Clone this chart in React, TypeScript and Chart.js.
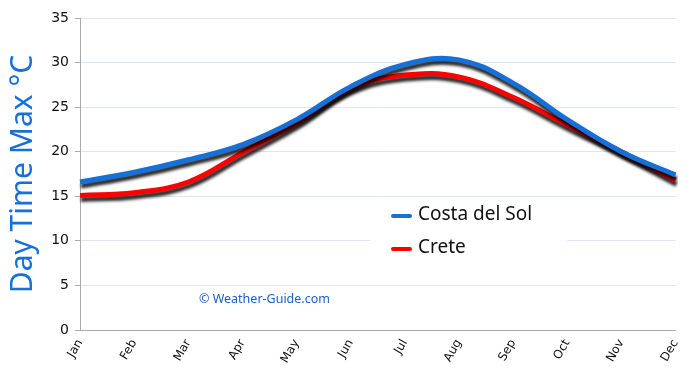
import React, { useEffect, useRef } from "react";
import { Chart, registerables } from "chart.js";

Chart.register(...registerables);

const months = ["Jan", "Feb", "Mar", "Apr", "May", "Jun", "Jul", "Aug", "Sep", "Oct", "Nov", "Dec"];
const costaDelSol = [16.6, 17.7, 19.1, 20.8, 23.6, 27.3, 29.8, 30.3, 27.7, 23.6, 20.0, 17.4];
const crete = [15.1, 15.4, 16.6, 19.9, 23.2, 27.1, 28.6, 28.4, 26.1, 23.0, 20.0, 16.8];
const seriesNames = ["Costa del Sol", "Crete"];
const seriesColors = ["#1670d8", "#ff0000"];
const yTitle = "Day Time Max °C";
const watermark = "© Weather-Guide.com";

const shadowPlugin = {
  id: "lineShadow",
  beforeDatasetsDraw(chart: any) {
    const ctx = chart.ctx;
    ctx.save();
    ctx.shadowColor = "rgba(0,0,0,0.85)";
    ctx.shadowOffsetX = 1;
    ctx.shadowOffsetY = 4;
    ctx.shadowBlur = 3;
  },
  afterDatasetsDraw(chart: any) {
    chart.ctx.restore();
  },
};

const overlayPlugin = {
  id: "overlay",
  afterDraw(chart: any) {
    const ctx = chart.ctx;
    ctx.save();
    ctx.fillStyle = "#ffffff";
    ctx.fillRect(370, 199, 197, 63);
    const items = [
      { y: 215, name: seriesNames[0], color: seriesColors[0] },
      { y: 248, name: seriesNames[1], color: seriesColors[1] },
    ];
    ctx.font = "19px 'Noto Sans', sans-serif";
    ctx.textBaseline = "middle";
    ctx.textAlign = "left";
    for (const it of items) {
      ctx.strokeStyle = it.color;
      ctx.lineWidth = 4;
      ctx.lineCap = "round";
      ctx.beginPath();
      ctx.moveTo(393, it.y + 1);
      ctx.lineTo(410, it.y + 1);
      ctx.stroke();
      ctx.fillStyle = "#111111";
      ctx.fillText(it.name, 418, it.y);
    }
    ctx.font = "12.5px 'Noto Sans', sans-serif";
    ctx.fillStyle = "#1a5fcc";
    ctx.fillText(watermark, 199, 299);
    ctx.restore();
  },
};

export default function App() {
  const ref = useRef<HTMLCanvasElement | null>(null);
  useEffect(() => {
    if (!ref.current) return;
    const chart = new Chart(ref.current, {
      type: "line",
      data: {
        labels: months,
        datasets: [
          {
            label: seriesNames[0],
            data: costaDelSol,
            borderColor: seriesColors[0],
            borderWidth: 5,
            pointRadius: 0,
            tension: 0.4,
            fill: false,
          },
          {
            label: seriesNames[1],
            data: crete,
            borderColor: seriesColors[1],
            borderWidth: 5,
            pointRadius: 0,
            tension: 0.4,
            fill: false,
          },
        ],
      },
      options: {
        animation: false,
        responsive: false,
        maintainAspectRatio: false,
        layout: { padding: { top: 18, right: 10, left: 5, bottom: 0 } },
        plugins: { legend: { display: false }, tooltip: { enabled: false } },
        scales: {
          x: {
            offset: false,
            grid: { display: false, tickLength: 5, color: "#aaaaaa" },
            border: { color: "#aaaaaa" },
            ticks: {
              minRotation: 60,
              maxRotation: 60,
              color: "#111111",
              font: { size: 12, family: "'DejaVu Sans', sans-serif" },
              padding: 2,
            },
            afterFit: (s: any) => {
              s.height = 45;
            },
          },
          y: {
            min: 0,
            max: 35,
            ticks: {
              stepSize: 5,
              color: "#111111",
              font: { size: 14, family: "'DejaVu Sans', sans-serif" },
              padding: 6,
            },
            grid: { color: "#dce6f5", tickLength: 5, tickColor: "#aaaaaa" },
            border: { color: "#aaaaaa" },
            title: {
              display: true,
              text: yTitle,
              color: "#1670d8",
              font: { size: 30, family: "'Noto Sans', sans-serif" },
              padding: 0,
            },
            afterFit: (s: any) => {
              s.width = 75;
            },
          },
        },
      },
      plugins: [shadowPlugin, overlayPlugin],
    });
    return () => chart.destroy();
  }, []);
  return (
    <div style={{ position: "fixed", left: 0, top: 0, width: 690, height: 375, background: "#fff" }}>
      <canvas ref={ref} width={690} height={375} style={{ width: 690, height: 375 }} />
    </div>
  );
}
